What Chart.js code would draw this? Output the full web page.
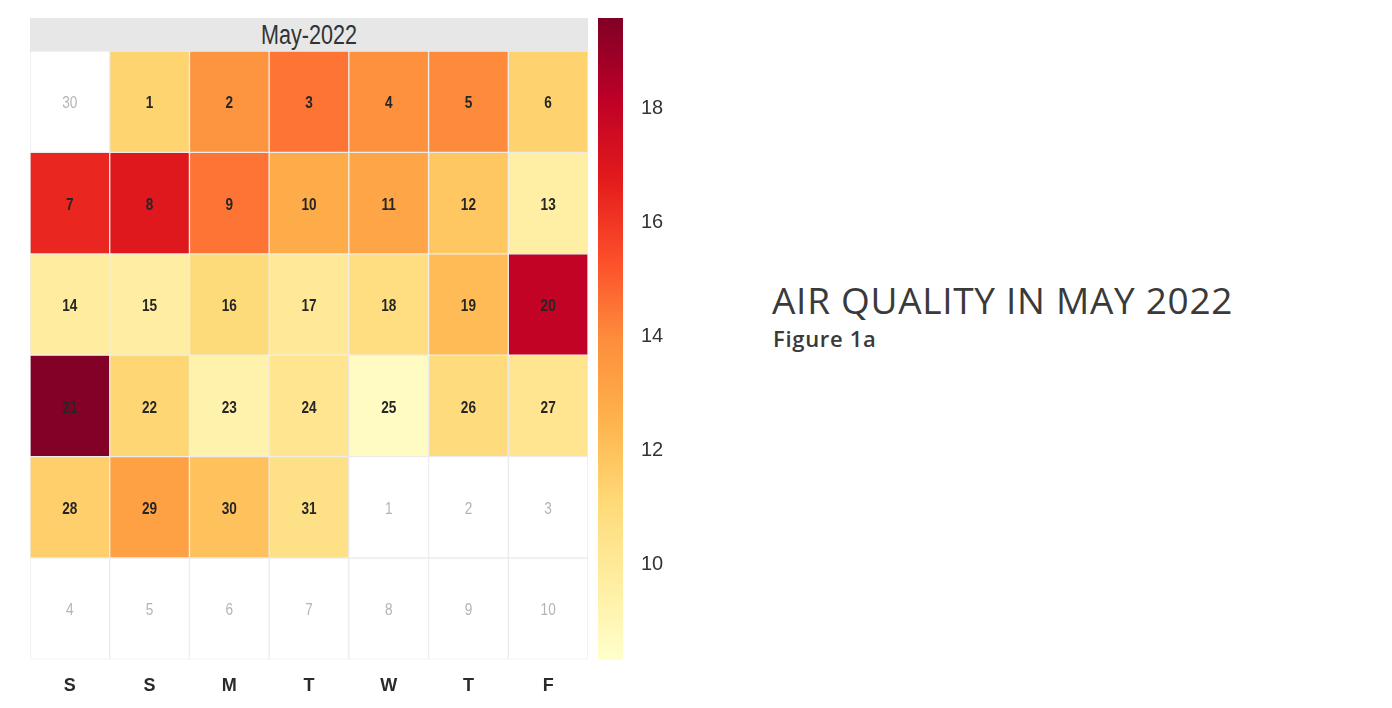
<!DOCTYPE html>
<html>
<head>
<meta charset="utf-8">
<script src="https://cdn.jsdelivr.net/npm/chart.js@4"></script>
<style>
  body { margin: 0; background: #fff; width: 1392px; height: 708px; position: relative; overflow: hidden; }
  #head { position: absolute; left: 30px; top: 18px; width: 558px; height: 33px; background: #e7e7e7; }
  #head span { position: absolute; left: 0; width: 558px; top: 2px; text-align: center; display: block;
          font: 27px "Liberation Sans", Arial, sans-serif; color: #333; transform: scaleX(0.8); line-height: 30px; }
  #cal { position: absolute; left: 30px; top: 51px; }
  #bar { position: absolute; left: 598px; top: 18px; }
  #title { position: absolute; left: 772px; top: 274px; font: 37px "Open Sans", sans-serif; color: #3a3a3a; letter-spacing: 0.7px; white-space: nowrap; }
  #sub { position: absolute; left: 773px; top: 323px; font: 600 22px "Open Sans", sans-serif; color: #3a3a3a; letter-spacing: 0.7px; white-space: nowrap; }
</style>
</head>
<body>
<div id="head"><span>May-2022</span></div>
<canvas id="cal" width="558" height="672"></canvas>
<canvas id="bar" width="85" height="642"></canvas>
<div id="title">AIR QUALITY IN MAY 2022</div>
<div id="sub">Figure 1a</div>
<script>
// Calendar heatmap: air quality, May 2022
const weekdays = ['S', 'S', 'M', 'T', 'W', 'T', 'F'];
const week1Days = [30, 1, 2, 3, 4, 5, 6];
const week2Days = [7, 8, 9, 10, 11, 12, 13];
const week3Days = [14, 15, 16, 17, 18, 19, 20];
const week4Days = [21, 22, 23, 24, 25, 26, 27];
const week5Days = [28, 29, 30, 31, 1, 2, 3];
const week6Days = [4, 5, 6, 7, 8, 9, 10];
// values (null = outside May)
const week1 = [null, 11.3, 13.7, 14.5, 13.8, 14.0, 11.4];
const week2 = [16.4, 16.9, 14.5, 12.8, 13.0, 11.8, 9.6];
const week3 = [9.8, 9.7, 11.0, 10.0, 10.8, 12.2, 18.0];
const week4 = [19.5, 11.2, 9.3, 10.3, 8.6, 10.9, 10.3];
const week5 = [11.5, 13.2, 12.0, 10.6, null, null, null];
const week6 = [null, null, null, null, null, null, null];
const scaleMin = 8.32;
const scaleMax = 19.58;
const colorTicks = [10, 12, 14, 16, 18];

const weeks = [week1, week2, week3, week4, week5, week6];
const weekDays = [week1Days, week2Days, week3Days, week4Days, week5Days, week6Days];

// YlOrRd
const stops = ['#ffffcc', '#ffeda0', '#fed976', '#feb24c', '#fd8d3c', '#fc4e2a', '#e31a1c', '#bd0026', '#800026'];
function hex(c) { return [1, 3, 5].map(i => parseInt(c.substr(i, 2), 16)); }
function colorFor(v) {
  if (v === null) return '#ffffff';
  let t = (v - scaleMin) / (scaleMax - scaleMin);
  t = Math.max(0, Math.min(1, t)) * (stops.length - 1);
  const i = Math.min(Math.floor(t), stops.length - 2);
  const f = t - i;
  const a = hex(stops[i]), b = hex(stops[i + 1]);
  const m = a.map((x, k) => Math.round(x + (b[k] - x) * f));
  return 'rgb(' + m.join(',') + ')';
}

const sans = '"Liberation Sans", Arial, sans-serif';

const dayLabels = {
  id: 'dayLabels',
  afterDatasetsDraw(chart) {
    const ctx = chart.ctx;
    chart.data.datasets.forEach((ds, w) => {
      chart.getDatasetMeta(w).data.forEach((bar, d) => {
        const has = weeks[w][d] !== null;
        ctx.save();
        ctx.translate(bar.x, (bar.y + bar.base) / 2 + 2);
        ctx.scale(0.8, 1);
        ctx.textAlign = 'center';
        ctx.textBaseline = 'middle';
        ctx.fillStyle = has ? '#262626' : '#b4b4b4';
        ctx.font = (has ? 'bold ' : '') + '17px ' + sans;
        ctx.fillText(String(weekDays[w][d]), 0, 0);
        ctx.restore();
      });
    });
  }
};

new Chart(document.getElementById('cal'), {
  type: 'bar',
  data: {
    labels: weekdays,
    datasets: weeks.map((vals, w) => ({
      label: 'week ' + (w + 1),
      data: vals.map(() => 1),
      backgroundColor: vals.map(colorFor),
      borderColor: '#ececec',
      borderWidth: 1,
      borderSkipped: false,
      barPercentage: 1,
      categoryPercentage: 1
    }))
  },
  options: {
    responsive: false,
    animation: false,
    layout: { padding: { bottom: 10 } },
    plugins: { legend: { display: false }, tooltip: { enabled: false } },
    scales: {
      x: {
        stacked: true,
        grid: { display: false, drawTicks: false },
        border: { display: false },
        ticks: { color: '#2a2a2a', padding: 16, font: { family: sans, size: 18, weight: 'bold' } }
      },
      y: { stacked: true, reverse: true, min: 0, max: 6, display: false }
    }
  },
  plugins: [dayLabels]
});

new Chart(document.getElementById('bar'), {
  type: 'bar',
  data: {
    labels: ['scale'],
    datasets: [{
      data: [[scaleMin, scaleMax]],
      barPercentage: 1,
      categoryPercentage: 1,
      backgroundColor(c) {
        const area = c.chart.chartArea;
        if (!area) return stops[0];
        const g = c.chart.ctx.createLinearGradient(0, area.bottom, 0, area.top);
        stops.forEach((s, i) => g.addColorStop(i / (stops.length - 1), s));
        return g;
      }
    }]
  },
  options: {
    responsive: false,
    animation: false,
    layout: { padding: 0 },
    plugins: { legend: { display: false }, tooltip: { enabled: false } },
    scales: {
      x: { display: false },
      y: {
        position: 'right',
        min: scaleMin,
        max: scaleMax,
        afterBuildTicks(scale) { scale.ticks = colorTicks.map(v => ({ value: v })); },
        afterFit(scale) { scale.width = 60; scale.paddingTop = 0; scale.paddingBottom = 0; },
        grid: { display: false, drawTicks: false },
        border: { display: false },
        ticks: { color: '#333', padding: 18, font: { family: sans, size: 20 } }
      }
    }
  }
});
</script>
</body>
</html>
